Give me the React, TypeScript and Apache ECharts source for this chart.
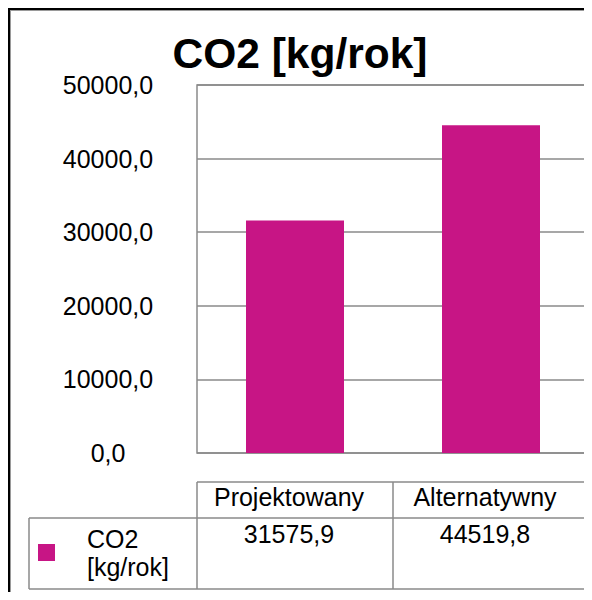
import React, { useEffect, useRef } from "react";
import * as echarts from "echarts";

const categories: string[] = ["Projektowany", "Alternatywny"];
const seriesName = "CO2 [kg/rok]";
const values: number[] = [31575.9, 44519.8];
const yTicks = { min: 0, max: 50000, interval: 10000 };

const fmt = (v: number) => v.toFixed(1).replace(".", ",");

const FONT = "'Liberation Sans', Arial, sans-serif";
const GRAY = "#8a8a8a";

export default function App() {
  const ref = useRef<HTMLDivElement>(null);
  useEffect(() => {
    if (!ref.current) return;
    const chart = echarts.init(ref.current, undefined, { renderer: "svg" });
    const W = 584;
    const H = 592;
    const gridLeft = 189;
    const gridRight = 3;
    const gridTop = 77;
    const gridBottom = 147;
    const plotR = W - gridRight;
    const colMid = gridLeft + (plotR - gridLeft) / 2;
    const tHeadTop = 474;
    const tRowTop = 510;
    const tBottom = 581;
    const tLeft = 21;
    const ls = { stroke: GRAY, lineWidth: 1.5 };
    chart.setOption({
      animation: false,
      backgroundColor: "#ffffff",
      textStyle: { fontFamily: FONT },
      title: {
        text: seriesName,
        left: "center",
        top: 19,
        textStyle: { fontFamily: FONT, fontSize: 42.5, fontWeight: "bold", color: "#000", lineHeight: 42 },
      },
      legend: {
        show: true,
        left: 30,
        top: 505,
        padding: 0,
        icon: "rect",
        itemWidth: 17,
        itemHeight: 17,
        formatter: () => "CO2\n[kg/rok]",
        textStyle: { fontFamily: FONT, fontSize: 25, color: "#000", lineHeight: 28, padding: [0, 0, 23, 27] },
      },
      grid: {
        left: gridLeft,
        right: gridRight,
        top: gridTop,
        bottom: gridBottom,
        show: true,
        borderColor: GRAY,
        borderWidth: 1.5,
        containLabel: false,
      },
      xAxis: [
        {
          type: "category",
          data: categories,
          position: "bottom",
          axisLine: { show: false },
          axisTick: { show: false },
          axisLabel: {
            margin: 31,
            fontFamily: FONT,
            fontSize: 25,
            lineHeight: 25,
            color: "#000",
            padding: [0, 12, 0, 0],
          },
        },
        {
          type: "category",
          data: categories,
          position: "bottom",
          axisLine: { show: false },
          axisTick: { show: false },
          axisLabel: {
            margin: 68,
            fontFamily: FONT,
            fontSize: 25,
            lineHeight: 25,
            color: "#000",
            padding: [0, 12, 0, 0],
            formatter: (_v: string, i: number) => fmt(values[i]),
          },
        },
      ],
      yAxis: {
        type: "value",
        min: yTicks.min,
        max: yTicks.max,
        interval: yTicks.interval,
        axisLine: { show: false },
        axisTick: { show: false },
        splitLine: { show: true, lineStyle: { color: GRAY, width: 1.5 } },
        axisLabel: {
          margin: 89,
          align: "center",
          fontFamily: FONT,
          fontSize: 25,
          color: "#000",
          formatter: (v: number) => fmt(v),
        },
      },
      series: [
        {
          name: seriesName,
          type: "bar",
          data: values,
          barWidth: "50%",
          itemStyle: { color: "#c71585" },
          xAxisIndex: 0,
        },
      ],
      graphic: [
        // outer frame (top/left visible)
        { type: "rect", shape: { x: 0, y: 0, width: 2, height: H }, style: { fill: "#000" } },
        { type: "rect", shape: { x: 0, y: 0, width: W, height: 2 }, style: { fill: "#000" } },
        { type: "rect", shape: { x: 2, y: 2, width: 1, height: H - 2 }, style: { fill: "#9a9a9a" } },
        { type: "rect", shape: { x: 2, y: 2, width: W - 2, height: 1 }, style: { fill: "#9a9a9a" } },
        // data table
        { type: "line", shape: { x1: gridLeft, y1: tHeadTop, x2: plotR, y2: tHeadTop }, style: ls },
        { type: "line", shape: { x1: tLeft, y1: tRowTop, x2: plotR, y2: tRowTop }, style: ls },
        { type: "line", shape: { x1: tLeft, y1: tBottom, x2: plotR, y2: tBottom }, style: ls },
        { type: "line", shape: { x1: tLeft, y1: tRowTop, x2: tLeft, y2: tBottom }, style: ls },
        { type: "line", shape: { x1: gridLeft, y1: tHeadTop, x2: gridLeft, y2: tBottom }, style: ls },
        { type: "line", shape: { x1: colMid, y1: tHeadTop, x2: colMid, y2: tBottom }, style: ls },
        { type: "line", shape: { x1: plotR, y1: tHeadTop, x2: plotR, y2: tBottom }, style: ls },
      ],
    });
    return () => chart.dispose();
  }, []);
  return <div ref={ref} style={{ width: 584, height: 592, marginBottom: -8 }} />;
}
